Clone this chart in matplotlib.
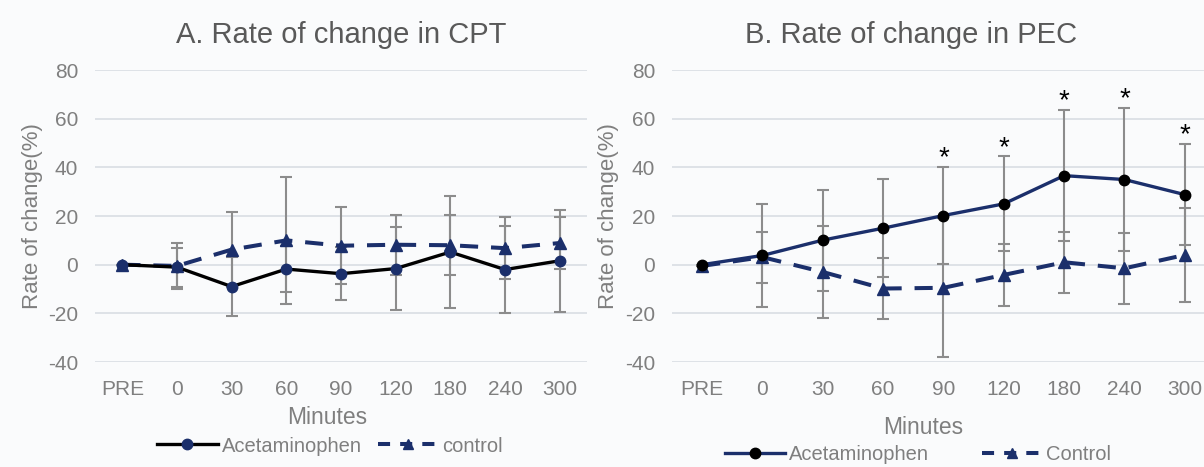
import numpy as np
import matplotlib.pyplot as plt
from matplotlib.lines import Line2D

plt.rcParams['font.family'] = ['Liberation Sans', 'DejaVu Sans']
plt.rcParams['axes.unicode_minus'] = False

minutes = ["PRE", "0", "30", "60", "90", "120", "180", "240", "300"]

# A. rate of change in CPT (mean, SD)
cpt_acet = [0, -1, -9, -1.8, -3.7, -1.6, 5.2, -2, 1.6]
cpt_acet_sd = [0, 8, 12.2, 9.5, 11, 16.9, 23, 18, 21]
cpt_ctrl = [0, -0.5, 6.2, 10, 7.8, 8.2, 8, 6.8, 8.9]
cpt_ctrl_sd = [0, 9.5, 15.3, 26, 15.8, 12.3, 12.4, 12.8, 10.5]

# B. rate of change in PEC (mean, SD)
pec_acet = [0, 3.8, 10.1, 15, 20.2, 25, 36.6, 35, 28.8]
pec_acet_sd = [0, 21, 20.8, 20.2, 20.1, 19.5, 27, 29.5, 20.8]
pec_ctrl = [-0.5, 3.1, -3, -9.8, -9.5, -4.2, 1, -1.5, 4]
pec_ctrl_sd = [0, 10.5, 19, 12.5, 28.5, 12.6, 12.5, 14.5, 19.5]
pec_signif = [False, False, False, False, True, True, True, True, True]

NAVY = '#1b2f6b'
GREY_TXT = '#7f7f7f'
ERR = '#8c8c8c'
BG = '#fafbfc'


def draw_panel(ax, acet, acet_sd, ctrl, ctrl_sd, acet_line, acet_mark):
    x = np.arange(len(minutes))
    ax.set_facecolor(BG)
    ax.errorbar(x, acet, yerr=acet_sd, fmt='none', ecolor=ERR, elinewidth=1.5,
                capsize=4.5, capthick=1.5, zorder=2)
    ax.errorbar(x, ctrl, yerr=ctrl_sd, fmt='none', ecolor=ERR, elinewidth=1.5,
                capsize=4.5, capthick=1.5, zorder=2)
    ax.plot(x, ctrl, color=NAVY, lw=2.9, dashes=(4.5, 3.2), marker='^', ms=9,
            mfc=NAVY, mec=NAVY, zorder=3)
    ax.plot(x, acet, color=acet_line, lw=2.4, marker='o', ms=7.5,
            mfc=acet_mark, mec=acet_mark, zorder=4)
    ax.set_xlim(-0.5, len(minutes) - 0.5)
    ax.set_ylim(-40, 80)
    ax.set_yticks(range(-40, 81, 20))
    ax.set_xticks(x)
    ax.set_xticklabels(minutes)
    ax.grid(axis='y', color='#d9dde3', lw=1.2)
    ax.set_axisbelow(True)
    for s in ax.spines.values():
        s.set_visible(False)
    ax.tick_params(length=0, labelsize=15, colors=GREY_TXT)
    ax.tick_params(axis='x', pad=13)
    ax.tick_params(axis='y', pad=12)
    ax.set_ylabel('Rate of change(%)', fontsize=16, color=GREY_TXT, labelpad=4)


fig = plt.figure(figsize=(12.04, 4.67), dpi=100, facecolor=BG)

axA = fig.add_axes([0.0789, 0.2248, 0.4086, 0.6252])
draw_panel(axA, cpt_acet, cpt_acet_sd, cpt_ctrl, cpt_ctrl_sd, 'black', NAVY)

axB = fig.add_axes([0.5581, 0.2248, 0.4510, 0.6252])
draw_panel(axB, pec_acet, pec_acet_sd, pec_ctrl, pec_ctrl_sd, NAVY, 'black')

for i, sig in enumerate(pec_signif):
    if sig:
        axB.annotate('*', (i, pec_acet[i] + pec_acet_sd[i]), xytext=(0, 1),
                     textcoords='offset points', ha='center', va='baseline',
                     fontsize=20, color='black')

fig.text(0.283, 0.925, 'A. Rate of change in CPT', ha='center', va='center',
         fontsize=21, color='#595959')
fig.text(0.757, 0.925, 'B. Rate of change in PEC', ha='center', va='center',
         fontsize=21, color='#595959')

fig.text(327 / 1204, 1 - 418 / 467, 'Minutes', ha='center', va='center',
         fontsize=16.5, color=GREY_TXT)
fig.text(923 / 1204, 1 - 428 / 467, 'Minutes', ha='center', va='center',
         fontsize=16.5, color=GREY_TXT)

hA = [Line2D([], [], color='black', lw=2.4, marker='o', ms=7.5, mfc=NAVY, mec=NAVY),
      Line2D([], [], color=NAVY, lw=2.9, dashes=(3, 2.5), marker='^', ms=7, mfc=NAVY, mec=NAVY)]
fig.legend(hA, ['Acetaminophen', 'control'], loc='center', ncol=2,
           bbox_to_anchor=(330 / 1204, 1 - 446 / 467), frameon=False, fontsize=14.5,
           handlelength=3, handletextpad=0.2, columnspacing=0.8, labelcolor=GREY_TXT)

hB = [Line2D([], [], color=NAVY, lw=2.4, marker='o', ms=7.5, mfc='black', mec='black'),
      Line2D([], [], color=NAVY, lw=2.9, dashes=(3, 2.5), marker='^', ms=7, mfc=NAVY, mec=NAVY)]
fig.legend(hB, ['Acetaminophen', 'Control'], loc='center', ncol=2,
           bbox_to_anchor=(918 / 1204, 1 - 455 / 467), frameon=False, fontsize=14.5,
           handlelength=3, handletextpad=0.2, columnspacing=2.6, labelcolor=GREY_TXT)

fig.savefig('out.png', dpi=100, facecolor=BG)
